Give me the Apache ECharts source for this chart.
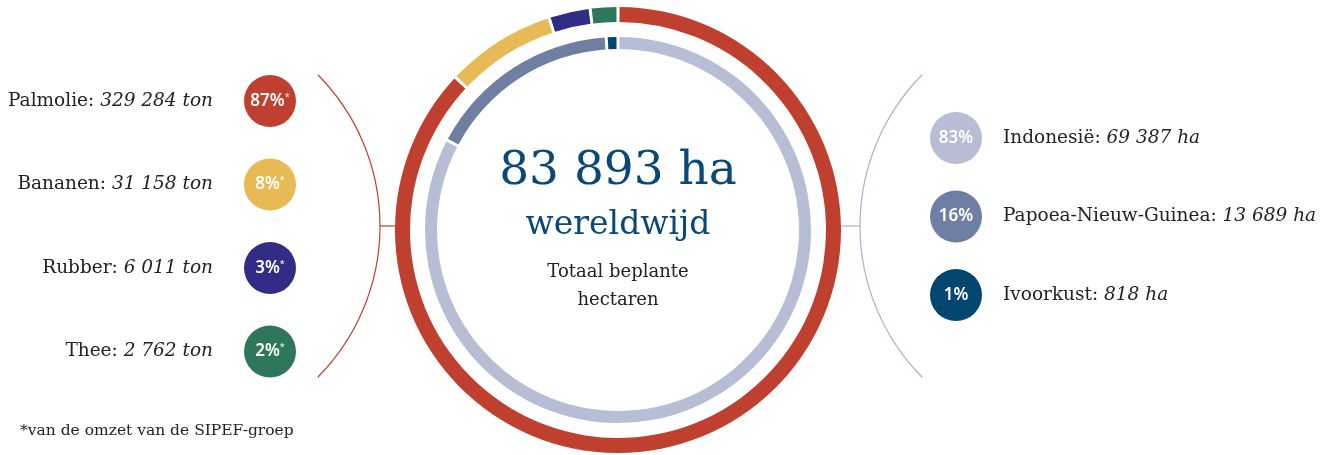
<!DOCTYPE html>
<html>
<head>
<meta charset="utf-8">
<script src="https://cdn.jsdelivr.net/npm/echarts@6/dist/echarts.min.js"></script>
<style>
  html, body { margin: 0; padding: 0; background: #fff; }
  #chart { width: 1338px; height: 455px; }
</style>
</head>
<body>
<div id="chart"></div>
<script>
// data
const crops = ['Palmolie', 'Bananen', 'Rubber', 'Thee'];
const cropTons = [329284, 31158, 6011, 2762];
const cropShare = [87, 8, 3, 2];            // % van de omzet
const cropColors = ['#bf402f', '#e8ba56', '#312c85', '#2f775b'];

const countries = ['Indonesië', 'Papoea-Nieuw-Guinea', 'Ivoorkust'];
const countryHa = [69387, 13689, 818];
const countryShare = [83, 16, 1];
const countryColors = ['#b7bdd4', '#6f7fa3', '#03466f'];

const totalHa = 83893;

const serif = '"DejaVu Serif", "Liberation Serif", serif';
const sans = '"Noto Sans", "Open Sans", sans-serif';
const blue = '#0a4877';

function fmt(n) {
  return String(n).replace(/\B(?=(\d{3})+(?!\d))/g, ' ');
}

const cx = 618, cy = 230;
const graphics = [];

// linker boog + verbindingslijn
graphics.push({
  type: 'arc', shape: { cx: 165, cy: 226, r: 215, startAngle: -0.78, endAngle: 0.78 },
  style: { stroke: '#bf402f', lineWidth: 1.2, fill: null }
});
graphics.push({
  type: 'line', shape: { x1: 380, y1: 226, x2: 398, y2: 226 },
  style: { stroke: '#bf402f', lineWidth: 1.2 }
});
// rechter boog
graphics.push({
  type: 'arc', shape: { cx: 1075, cy: 226, r: 215, startAngle: Math.PI - 0.78, endAngle: Math.PI + 0.78 },
  style: { stroke: '#aab1cc', lineWidth: 1.2, fill: null }
});
graphics.push({
  type: 'line', shape: { x1: 838, y1: 226, x2: 860, y2: 226 },
  style: { stroke: '#aab1cc', lineWidth: 1.2 }
});

// linker legenda
crops.forEach((name, i) => {
  const y = 101 + i * 83.5;
  graphics.push({
    type: 'circle', shape: { cx: 270, cy: y, r: 26 },
    style: { fill: cropColors[i] }
  });
  graphics.push({
    type: 'text', x: 270, y: y,
    style: {
      text: '{p|' + cropShare[i] + '%}{s|*}',
      align: 'center', verticalAlign: 'middle',
      rich: {
        p: { fontFamily: sans, fontWeight: 600, fontSize: 17, fill: '#fff' },
        s: { fontFamily: sans, fontSize: 9, fill: '#fff', padding: [0, 0, 8, 0] }
      }
    }
  });
  graphics.push({
    type: 'text', x: 213, y: y,
    style: {
      text: '{n|' + name + ': }{v|' + fmt(cropTons[i]) + ' ton}',
      align: 'right', verticalAlign: 'middle',
      rich: {
        n: { fontFamily: serif, fontSize: 18.5, fill: '#222' },
        v: { fontFamily: serif, fontSize: 18.5, fontStyle: 'italic', fill: '#222' }
      }
    }
  });
});

// rechter legenda
countries.forEach((name, i) => {
  const y = 138 + i * 78.5;
  graphics.push({
    type: 'circle', shape: { cx: 956, cy: y, r: 26 },
    style: { fill: countryColors[i] }
  });
  graphics.push({
    type: 'text', x: 956, y: y,
    style: {
      text: countryShare[i] + '%', align: 'center', verticalAlign: 'middle',
      fontFamily: sans, fontWeight: 600, fontSize: 17, fill: '#fff'
    }
  });
  graphics.push({
    type: 'text', x: 1003, y: y,
    style: {
      text: '{n|' + name + ': }{v|' + fmt(countryHa[i]) + ' ha}',
      align: 'left', verticalAlign: 'middle',
      rich: {
        n: { fontFamily: serif, fontSize: 18.5, fill: '#222' },
        v: { fontFamily: serif, fontSize: 18.5, fontStyle: 'italic', fill: '#222' }
      }
    }
  });
});

// midden
graphics.push({
  type: 'text', x: cx, y: 172,
  style: { text: fmt(totalHa) + ' ha', align: 'center', verticalAlign: 'middle',
    fontFamily: serif, fontSize: 47, fill: blue }
});
graphics.push({
  type: 'text', x: cx, y: 225,
  style: { text: 'wereldwijd', align: 'center', verticalAlign: 'middle',
    fontFamily: serif, fontSize: 33, fill: blue }
});
graphics.push({
  type: 'text', x: cx, y: 286,
  style: { text: 'Totaal beplante\nhectaren', align: 'center', verticalAlign: 'middle',
    fontFamily: serif, fontSize: 18, lineHeight: 28, fill: '#222' }
});

// voetnoot
graphics.push({
  type: 'text', x: 20, y: 431,
  style: { text: '*van de omzet van de SIPEF-groep', align: 'left', verticalAlign: 'middle',
    fontFamily: serif, fontSize: 15.5, fill: '#222' }
});

const chart = echarts.init(document.getElementById('chart'));
chart.setOption({
  animation: false,
  graphic: graphics,
  series: [
    {
      type: 'pie',
      center: [cx, cy],
      radius: [208, 223],
      startAngle: 90,
      clockwise: true,
      padAngle: 0.8,
      silent: true,
      label: { show: false },
      labelLine: { show: false },
      data: crops.map((n, i) => ({ name: n, value: cropShare[i], itemStyle: { color: cropColors[i] } }))
    },
    {
      type: 'pie',
      center: [cx, cy],
      radius: [181, 193],
      startAngle: 90,
      clockwise: true,
      padAngle: 0.9,
      silent: true,
      label: { show: false },
      labelLine: { show: false },
      data: countries.map((n, i) => ({ name: n, value: countryHa[i], itemStyle: { color: countryColors[i] } }))
    }
  ]
});
</script>
</body>
</html>
